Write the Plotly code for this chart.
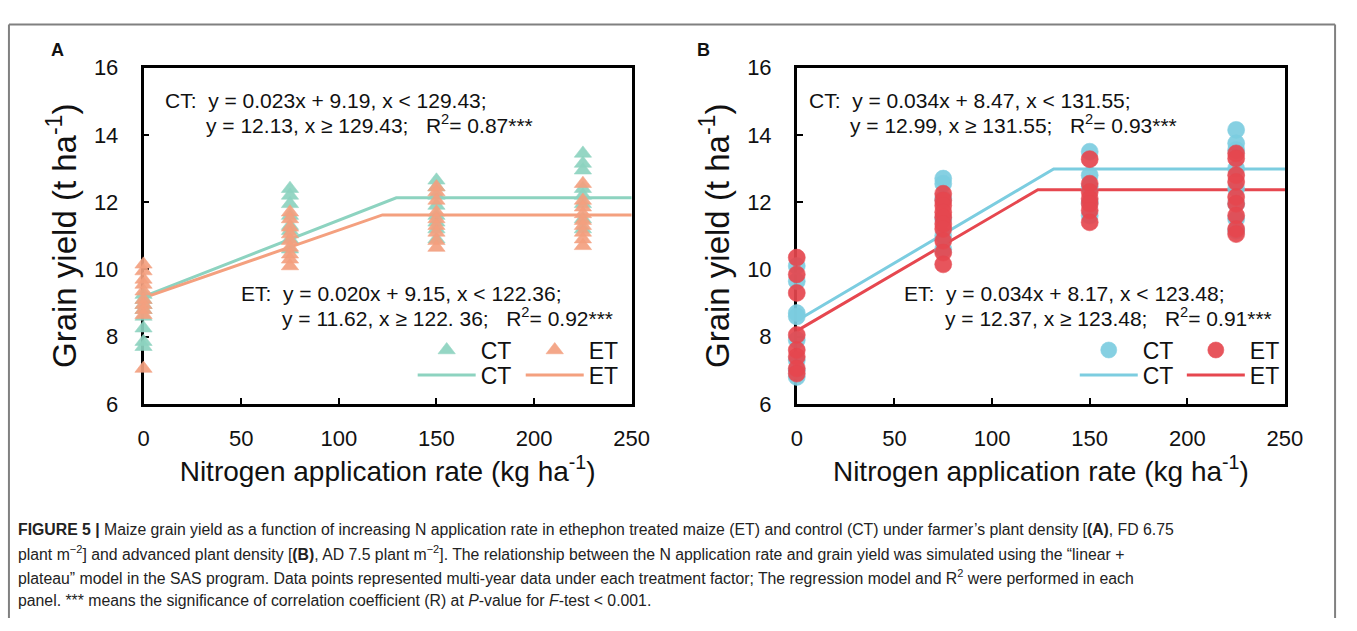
import plotly.graph_objects as go

W, H = 1357, 631

# ---------------- data ----------------
n_levels = [0, 75, 150, 225]

# Panel A (farmer's density) – triangles
a_ct = {
    0: [9.25, 9.1, 8.95, 8.8, 8.6, 8.25, 7.85, 7.7],
    75: [12.4, 12.2, 11.95, 11.6, 11.3, 11.15, 10.9, 10.6],
    150: [12.65, 12.45, 12.2, 11.9, 11.6, 11.4, 11.2, 10.9],
    225: [13.45, 13.15, 12.95, 12.4, 12.2, 11.95, 11.5, 11.2],
}
a_et = {
    0: [10.15, 9.95, 9.7, 9.55, 9.35, 9.1, 8.95, 8.8, 8.65, 7.05],
    75: [11.7, 11.5, 11.25, 11.05, 10.85, 10.65, 10.45, 10.3, 10.1],
    150: [12.45, 12.3, 12.05, 11.7, 11.5, 11.3, 11.1, 10.85, 10.65],
    225: [12.55, 12.05, 11.85, 11.65, 11.45, 11.3, 11.1, 10.9, 10.7],
}
# Panel B (advanced density) – circles
b_ct = {
    0: [10.1, 9.65, 8.7, 8.6, 7.9, 7.3, 7.0, 6.8],
    75: [12.7, 12.55, 12.1, 11.5, 11.0, 10.6],
    150: [13.5, 12.8, 12.45, 12.0, 11.6],
    225: [14.15, 13.75, 13.55, 13.0, 12.4, 11.95, 11.5, 11.15],
}
b_et = {
    0: [10.35, 9.85, 9.3, 8.05, 7.6, 7.4, 7.05, 6.9],
    75: [12.25, 12.05, 11.9, 11.7, 11.55, 11.35, 11.2, 10.85, 10.5, 10.15],
    150: [13.28, 12.55, 12.3, 12.1, 11.95, 11.75, 11.4],
    225: [13.45, 13.3, 12.8, 12.6, 12.15, 11.95, 11.6, 11.2, 11.05],
}

# linear + plateau fits (breakpoints)
a_ct_fit_x, a_ct_fit_y = [0, 129.43, 250], [9.19, 12.13, 12.13]
a_et_fit_x, a_et_fit_y = [0, 122.36, 250], [9.15, 11.62, 11.62]
b_ct_fit_x, b_ct_fit_y = [0, 131.55, 250], [8.47, 12.99, 12.99]
b_et_fit_x, b_et_fit_y = [0, 123.48, 250], [8.17, 12.37, 12.37]

x_ticks = [0, 50, 100, 150, 200, 250]
y_ticks = [6, 8, 10, 12, 14, 16]

caption_lines = [
    "<b>FIGURE 5 |</b> Maize grain yield as a function of increasing N application rate in "
    "ethephon treated maize (ET) and control (CT) under farmer’s plant density [<b>(A)</b>, FD 6.75",
    "plant m<sup>−2</sup>] and advanced plant density [<b>(B)</b>, AD 7.5 plant m<sup>−2</sup>]. "
    "The relationship between the N application rate and grain yield was simulated using the “linear +",
    "plateau” model in the SAS program. Data points represented multi-year data under each treatment "
    "factor; The regression model and R<sup>2</sup> were performed in each",
    "panel. *** means the significance of correlation coefficient (R) at <i>P</i>-value for "
    "<i>F</i>-test &lt; 0.001.",
]

# colours
A_CT_COL, A_ET_COL = "#8dd3c0", "#f4a07f"
B_CT_COL, B_ET_COL = "#7ccde0", "#e6474f"

FONT = "Liberation Sans, Arial, Helvetica, sans-serif"


def flat(d):
    xs, ys = [], []
    for k in n_levels:
        xs += [k] * len(d[k])
        ys += d[k]
    return xs, ys


def px(x):
    return x / W


def py(y):
    return 1 - y / H


fig = go.Figure()

# legend ids: (CT marker, ET marker, CT line, ET line) per panel
panels = [
    ("x", "y", a_ct, a_et, "triangle-up", 15, A_CT_COL, A_ET_COL,
     (a_ct_fit_x, a_ct_fit_y), (a_et_fit_x, a_et_fit_y),
     ("legend", "legend2", "legend3", "legend4")),
    ("x2", "y2", b_ct, b_et, "circle", 17, B_CT_COL, B_ET_COL,
     (b_ct_fit_x, b_ct_fit_y), (b_et_fit_x, b_et_fit_y),
     ("legend5", "legend6", "legend7", "legend8")),
]

for xa, ya, ct, et, sym, msz, cc, ec, ctfit, etfit, legs in panels:
    fig.add_trace(go.Scatter(x=ctfit[0], y=ctfit[1], mode="lines", name="CT",
                             line=dict(color=cc, width=3), xaxis=xa, yaxis=ya,
                             legend=legs[2], cliponaxis=False))
    fig.add_trace(go.Scatter(x=etfit[0], y=etfit[1], mode="lines", name="ET",
                             line=dict(color=ec, width=3), xaxis=xa, yaxis=ya,
                             legend=legs[3], cliponaxis=False))
    cx, cy = flat(ct)
    ex, ey = flat(et)
    fig.add_trace(go.Scatter(x=cx, y=cy, mode="markers", name="CT",
                             marker=dict(symbol=sym, size=msz, color=cc, opacity=0.92,
                                         line=dict(width=0.6, color=cc)),
                             xaxis=xa, yaxis=ya, legend=legs[0], cliponaxis=False))
    fig.add_trace(go.Scatter(x=ex, y=ey, mode="markers", name="ET",
                             marker=dict(symbol=sym, size=msz, color=ec, opacity=0.92,
                                         line=dict(width=0.6, color=ec)),
                             xaxis=xa, yaxis=ya, legend=legs[1], cliponaxis=False))

axis_common = dict(showgrid=False, zeroline=False, showline=True, linecolor="black",
                   linewidth=2.5, mirror=True, ticks="inside", ticklen=6, tickwidth=2,
                   tickcolor="black", layer="below traces",
                   tickfont=dict(family=FONT, size=22, color="#111"))

xt = dict(text="Nitrogen application rate (kg ha<sup>-1</sup>)",
          font=dict(family=FONT, size=28, color="#111"), standoff=10)
yt = dict(text="Grain yield (t ha<sup>-1</sup>)",
          font=dict(family=FONT, size=33, color="#111"), standoff=8)

ydom = [py(408), py(58)]
fig.update_layout(
    xaxis=dict(domain=[px(140), px(637)], range=[0, 250], tickvals=x_ticks,
               anchor="y", title=xt, ticklabelstandoff=13, **axis_common),
    yaxis=dict(domain=ydom, range=[6, 16], tickvals=y_ticks, anchor="x",
               title=yt, ticklabelstandoff=18, **axis_common),
    xaxis2=dict(domain=[px(805), px(1302)], range=[0, 250], tickvals=x_ticks,
                anchor="y2", title=xt, ticklabelstandoff=13, **axis_common),
    yaxis2=dict(domain=ydom, range=[6, 16], tickvals=y_ticks, anchor="x2",
                title=yt, ticklabelstandoff=18, **axis_common),
)

leg_common = dict(orientation="v", bgcolor="rgba(0,0,0,0)", borderwidth=0,
                  font=dict(family=FONT, size=23, color="#111"), itemwidth=58,
                  xanchor="left", yanchor="middle")
fig.update_layout(
    showlegend=True,
    legend=dict(x=px(414), y=py(352), **leg_common),
    legend2=dict(x=px(524), y=py(352), **leg_common),
    legend3=dict(x=px(414), y=py(378), **leg_common),
    legend4=dict(x=px(524), y=py(378), **leg_common),
    legend5=dict(x=px(1088), y=py(352), **leg_common),
    legend6=dict(x=px(1197), y=py(352), **leg_common),
    legend7=dict(x=px(1088), y=py(378), **leg_common),
    legend8=dict(x=px(1197), y=py(378), **leg_common),
)

ann = []


def txt(x, y, s, size=21, family=FONT, color="#111"):
    ann.append(dict(x=px(x), y=py(y), xref="paper", yref="paper", text=s, showarrow=False,
                    xanchor="left", yanchor="middle", align="left",
                    font=dict(family=family, size=size, color=color)))


NB = "\u00a0"
# panel A equations
txt(160, 92, f"CT:{NB*2}y = 0.023x + 9.19, x &lt; 129.43;")
txt(202, 117, f"y = 12.13, x ≥ 129.43;{NB*3}R<sup>2</sup>= 0.87***")
txt(237, 293, f"ET:{NB*2}y = 0.020x + 9.15, x &lt; 122.36;")
txt(279, 318, f"y = 11.62, x ≥ 122. 36;{NB*3}R<sup>2</sup>= 0.92***")
# panel B equations
txt(815, 92, f"CT:{NB*2}y = 0.034x + 8.47, x &lt; 131.55;")
txt(857, 117, f"y = 12.99, x ≥ 131.55;{NB*3}R<sup>2</sup>= 0.93***")
txt(912, 293, f"ET:{NB*2}y = 0.034x + 8.17, x &lt; 123.48;")
txt(954, 318, f"y = 12.37, x ≥ 123.48;{NB*3}R<sup>2</sup>= 0.91***")

# panel letters
txt(44, 40, "<b>A</b>", size=18)
txt(701, 40, "<b>B</b>", size=18)

# caption, one annotation per line
for i, line in enumerate(caption_lines):
    txt(10, 539 + 24.5 * i, line, size=15.8, color="#222")

fig.update_layout(annotations=ann)

frame = dict(type="line", xref="paper", yref="paper", line=dict(color="#808080", width=2))
fig.update_layout(shapes=[
    dict(x0=px(3), x1=px(1353), y0=py(13), y1=py(13), **frame),
    dict(x0=px(3), x1=px(3), y0=py(13), y1=0, **frame),
    dict(x0=px(1353), x1=px(1353), y0=py(13), y1=0, **frame),
])

fig.update_layout(width=W, height=H, margin=dict(l=0, r=0, t=0, b=0),
                  paper_bgcolor="white", plot_bgcolor="white",
                  font=dict(family=FONT))

fig.write_html("out.html")
